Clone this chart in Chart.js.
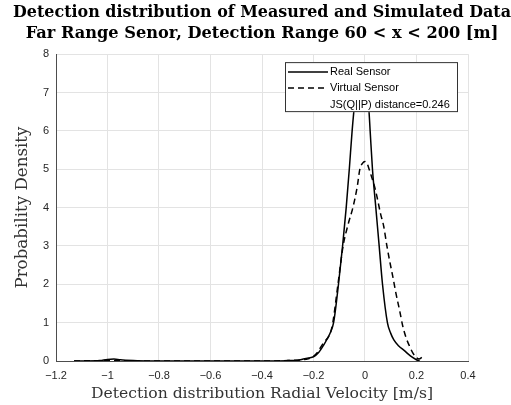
<!DOCTYPE html>
<html>
<head>
<meta charset="utf-8">
<script src="https://cdn.jsdelivr.net/npm/chart.js@4/dist/chart.umd.min.js"></script>
<style>
  html, body { margin: 0; padding: 0; background: #fff; }
  #wrap { width: 511px; height: 405px; }
</style>
</head>
<body>
<div id="wrap"><canvas id="chart"></canvas></div>
<script>
  const titleLines = [
    'Detection distribution of Measured and Simulated Data',
    'Far Range Senor, Detection Range 60 < x < 200 [m]',
  ];
  const xTitle = 'Detection distribution Radial Velocity [m/s]';
  const yTitle = 'Probability Density';
  const legendLabels = ['Real Sensor', 'Virtual Sensor', 'JS(Q||P) distance=0.246'];

  const xTicks = [-1.2, -1, -0.8, -0.6, -0.4, -0.2, 0, 0.2, 0.4];
  const xTickLabels = ['\u22121.2', '\u22121', '\u22120.8', '\u22120.6', '\u22120.4', '\u22120.2', '0', '0.2', '0.4'];
  const yTicks = [0, 1, 2, 3, 4, 5, 6, 7, 8];
  const yTickLabels = ['0', '1', '2', '3', '4', '5', '6', '7', '8'];

  // Real sensor density (solid)
  const realX = [-1.13, -1.08, -1.03, -1.0, -0.975, -0.95, -0.9, -0.85, -0.7, -0.55, -0.4, -0.3, -0.26, -0.24, -0.22, -0.2,
    -0.18, -0.16, -0.145, -0.134, -0.122, -0.103, -0.087, -0.073, -0.061, -0.05, -0.039, -0.025, -0.01,
    0.003, 0.013, 0.02, 0.029, 0.042, 0.055, 0.068, 0.087, 0.1, 0.112, 0.13, 0.153, 0.175, 0.198, 0.212];
  const realY = [0, 0, 0.01, 0.04, 0.05, 0.03, 0.01, 0, 0, 0, 0, 0.01, 0.02, 0.05, 0.08, 0.11,
    0.22, 0.42, 0.6, 0.75, 1.0, 2.0, 3.0, 4.0, 5.0, 6.0, 6.78, 7.4, 7.6,
    7.4, 6.78, 6.0, 5.0, 4.0, 3.0, 2.0, 1.0, 0.72, 0.55, 0.4, 0.27, 0.14, 0.04, 0.0];

  // Virtual sensor density (dashed)
  const virtualX = [-1.13, -1.0, -0.8, -0.6, -0.4, -0.3, -0.25, -0.22, -0.2, -0.185, -0.17, -0.155, -0.145, -0.135,
    -0.125, -0.105, -0.085, -0.066, -0.047, -0.03, -0.02, -0.01, 0.0, 0.008, 0.016, 0.028, 0.039, 0.046,
    0.06, 0.073, 0.085, 0.096, 0.108, 0.12, 0.135, 0.147, 0.16, 0.172, 0.185, 0.198, 0.21, 0.222];
  const virtualY = [0, 0.01, 0, 0, 0, 0.01, 0.03, 0.06, 0.12, 0.22, 0.38, 0.52, 0.6, 0.72,
    1.0, 2.0, 3.0, 3.55, 4.0, 4.55, 5.0, 5.15, 5.2, 5.15, 5.0, 4.75, 4.5, 4.3,
    3.85, 3.5, 3.0, 2.6, 2.2, 1.77, 1.3, 0.9, 0.6, 0.4, 0.22, 0.1, 0.05, 0.1];

  const axisColor = '#4d4d4d';
  const gridColor = '#e3e3e3';
  const tickFont = { family: 'Liberation Sans', size: 11 };
  const serif = 'DejaVu Serif';

  const legendBox = {
    id: 'legendBox',
    afterDatasetsDraw(chart) {
      const { ctx, chartArea } = chart;
      const right = chartArea.right - 10;
      const top = chartArea.top + 8;
      const w = 173;
      const h = 50;
      const left = right - w;
      ctx.save();
      ctx.fillStyle = '#fff';
      ctx.fillRect(left, top, w, h);
      ctx.strokeStyle = '#333';
      ctx.lineWidth = 1;
      ctx.strokeRect(left + 0.5, top + 0.5, w - 1, h - 1);

      const rows = [top + 10, top + 26, top + 43];
      ctx.strokeStyle = '#000';
      ctx.lineWidth = 1.5;
      chart.data.datasets.forEach((ds, i) => {
        ctx.setLineDash(ds.borderDash || []);
        ctx.beginPath();
        ctx.moveTo(left + 3, rows[i]);
        ctx.lineTo(left + 43, rows[i]);
        ctx.stroke();
      });
      ctx.setLineDash([]);
      ctx.fillStyle = '#000';
      ctx.font = '11px "Liberation Sans"';
      ctx.textBaseline = 'middle';
      legendLabels.forEach((label, i) => {
        ctx.fillText(label, left + 45, rows[i]);
      });
      ctx.restore();
    },
  };

  new Chart(document.getElementById('chart'), {
    type: 'line',
    data: {
      datasets: [
        {
          label: legendLabels[0],
          data: realX.map((x, i) => ({ x, y: realY[i] })),
          borderColor: '#000',
          borderWidth: 1.5,
          pointRadius: 0,
          cubicInterpolationMode: 'monotone',
          fill: false,
        },
        {
          label: legendLabels[1],
          data: virtualX.map((x, i) => ({ x, y: virtualY[i] })),
          borderColor: '#000',
          borderWidth: 1.5,
          borderDash: [6, 4],
          pointRadius: 0,
          cubicInterpolationMode: 'monotone',
          fill: false,
        },
      ],
    },
    options: {
      responsive: true,
      maintainAspectRatio: false,
      animation: false,
      layout: { padding: { left: 13, right: 0, top: 0, bottom: 0 } },
      plugins: {
        legend: { display: false },
        tooltip: { enabled: false },
        title: {
          display: true,
          text: titleLines,
          color: '#000',
          font: { family: serif, size: 16.2, weight: 'bold', lineHeight: 1.3 },
          padding: { top: 2, bottom: 10 },
        },
      },
      scales: {
        x: {
          type: 'linear',
          min: -1.2,
          max: 0.4,
          afterBuildTicks(scale) {
            scale.ticks = xTicks.map((value) => ({ value }));
          },
          afterFit(scale) {
            scale.height = 44;
          },
          ticks: {
            color: '#262626',
            font: tickFont,
            padding: 8,
            maxRotation: 0,
            autoSkip: false,
            callback: (value) => xTickLabels[xTicks.indexOf(value)],
          },
          grid: { color: gridColor, drawTicks: false },
          border: { color: axisColor, width: 1 },
          title: {
            display: true,
            text: xTitle,
            color: '#333',
            font: { family: serif, size: 15.6 },
            padding: { top: 0, bottom: 2 },
          },
        },
        y: {
          min: 0,
          max: 8,
          afterBuildTicks(scale) {
            scale.ticks = yTicks.map((value) => ({ value }));
          },
          afterFit(scale) {
            scale.width = 43;
          },
          ticks: {
            color: '#262626',
            font: tickFont,
            padding: 7,
            autoSkip: false,
            callback: (value) => yTickLabels[yTicks.indexOf(value)],
          },
          grid: { color: gridColor, drawTicks: false },
          border: { color: axisColor, width: 1 },
          title: {
            display: true,
            text: yTitle,
            color: '#333',
            font: { family: serif, size: 16.7 },
            padding: { top: 0, bottom: 4 },
          },
        },
        // empty right margin so the title centres over the axes
        yRight: {
          position: 'right',
          display: true,
          min: 0,
          max: 8,
          afterFit(scale) {
            scale.width = 43;
          },
          ticks: { display: false },
          grid: { display: false, drawOnChartArea: false },
          border: { display: false },
        },
      },
    },
    plugins: [legendBox],
  });
</script>
</body>
</html>
